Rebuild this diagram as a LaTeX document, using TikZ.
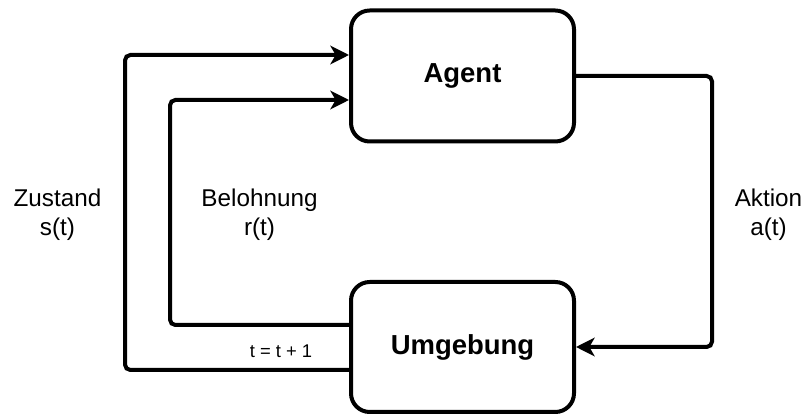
\documentclass[tikz,border=0pt]{standalone}
\usepackage{fontspec}
\setmainfont{Liberation Sans}
\usetikzlibrary{arrows.meta}
\begin{document}
\begin{tikzpicture}[x=0.75pt,y=-0.75pt,
  box/.style={draw, line width=3pt, rounded corners=14pt, minimum width=167.25pt,
    font=\bfseries\fontsize{20.6}{24}\selectfont, inner sep=0pt},
  conn/.style={line width=3pt, rounded corners=4pt, -{Stealth[length=14pt,width=14pt,inset=4pt]}},
  lbl/.style={align=center, font=\fontsize{18.2}{21.8}\selectfont, inner sep=0pt},
  small/.style={font=\fontsize{13.8}{16}\selectfont, inner sep=0pt}]
\useasboundingbox (0,0) rectangle (804,416);

% the two blocks
\node[box, minimum height=98.25pt] (agent) at (462.5,76) {Agent};
\node[box, minimum height=97.5pt] (umg) at (462.5,347) {Umgebung};

% routing coordinates
\coordinate (zL) at (125,0);
\coordinate (rL) at (170,0);
\coordinate (aR) at (712,0);
\coordinate (yZa) at (0,370);
\coordinate (yZb) at (0,55);
\coordinate (yRa) at (0,325);
\coordinate (yRb) at (0,100);

% state feedback
\draw[conn] (umg.west |- yZa) -| (zL |- yZb) -- (agent.west |- yZb);
% reward feedback
\draw[conn] (umg.west |- yRa) -| (rL |- yRb) -- (agent.west |- yRb);
% action
\draw[conn] (agent.east) -| (aR |- umg.east) -- (umg.east);

% labels
\node[lbl] (lz) at (57.5,215) {Zustand\\s(t)};
\node[lbl] (lr) at (259.5,215) {Belohnung\\r(t)};
\node[lbl] (la) at (768.5,215) {Aktion\\a(t)};
\node[small] (lt) at (281,351) {t = t + 1};
\end{tikzpicture}
\end{document}
